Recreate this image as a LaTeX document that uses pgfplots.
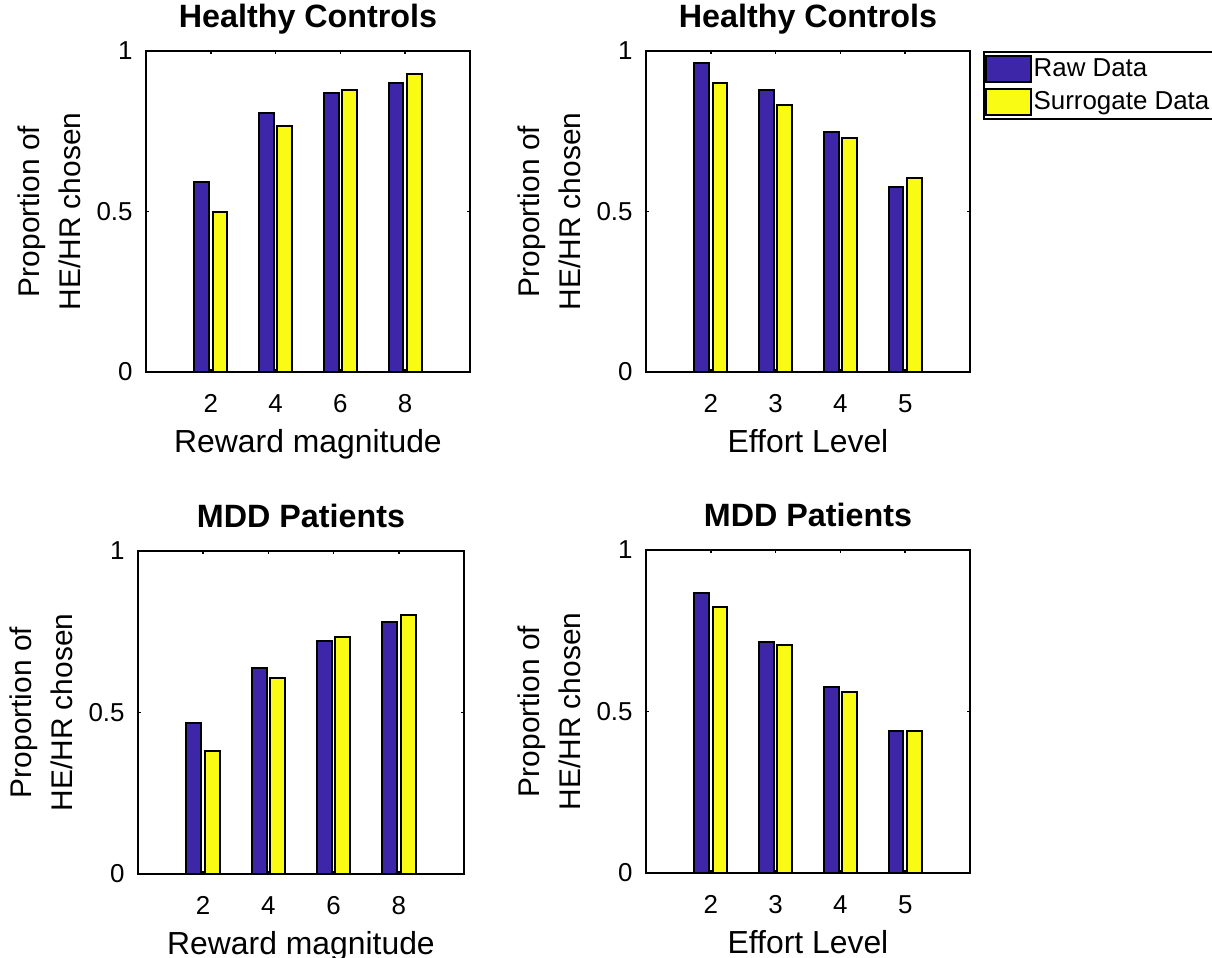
\documentclass[border=0pt]{standalone}
\usepackage{pgfplots}
\pgfplotsset{compat=1.18}
\usepackage{fontspec}
\setmainfont{Liberation Sans}
\definecolor{rawc}{rgb}{0.2422,0.1504,0.6603}
\definecolor{surc}{rgb}{0.9769,0.9839,0.0805}

\pgfplotsset{
  panel/.style={
    scale only axis, width=162bp, height=160.5bp,
    xmin=0, xmax=5, ymin=0, ymax=1,
    xtick={1,2,3,4}, ytick={0,0.5,1}, yticklabels={0,0.5,1},
    tick align=inside, major tick length=1.6bp,
    axis line style={line width=1bp, black},
    every tick/.style={black, line width=0.8bp},
    /pgf/number format/assume math mode=true,
    ticklabel style={font=\fontsize{13}{15}\selectfont},
    xticklabel style={inner sep=0pt, anchor=north, yshift=-11.2bp},
    yticklabel style={inner sep=0pt, anchor=east, xshift=-6.5bp},
    title style={at={(axis description cs:0.5,1)}, anchor=base, yshift=6bp, inner sep=0pt,
      font=\bfseries\fontsize{16.2}{19}\selectfont},
    xlabel style={at={(axis description cs:0.5,0)}, anchor=north, yshift=-28.5bp, inner sep=0pt,
      font=\fontsize{16}{19}\selectfont},
    ylabel style={at={(axis description cs:-0.2,0.5)}, anchor=south, inner sep=0pt,
      align=center, font=\fontsize{15}{20.5}\selectfont},
    ylabel={Proportion of\\HE/HR chosen},
  },
  rawbar/.style={ybar, bar width=0.229, bar shift=-0.143, fill=rawc, draw=black, line width=1bp, forget plot},
  surbar/.style={ybar, bar width=0.229, bar shift=0.143, fill=surc, draw=black, line width=1bp, forget plot},
}

\begin{document}
\begin{tikzpicture}
\useasboundingbox (0,0) rectangle (606bp,479bp);
\clip (0,0) rectangle (606bp,479bp);

% Top left
\begin{axis}[panel, at={(73bp,293bp)}, anchor=south west,
  title={Healthy Controls}, xlabel={Reward magnitude}, xticklabels={2,4,6,8}]
\addplot[rawbar] coordinates {(1,0.592) (2,0.806) (3,0.870) (4,0.899)};
\addplot[surbar] coordinates {(1,0.499) (2,0.767) (3,0.877) (4,0.928)};
\end{axis}

% Top right
\begin{axis}[panel, at={(323bp,293bp)}, anchor=south west,
  title={Healthy Controls}, xlabel={Effort Level}, xticklabels={2,3,4,5},
  legend style={at={(axis description cs:1.040,1)}, anchor=north west, draw=black, line width=1bp,
    font=\fontsize{13}{15.5}\selectfont, inner xsep=0.5bp, inner ysep=1.5bp, row sep=2.5bp,
    nodes={inner sep=0.85bp}, cells={anchor=west}},
  legend cell align=left]
\addplot[rawbar] coordinates {(1,0.962) (2,0.877) (3,0.749) (4,0.576)};
\addplot[surbar] coordinates {(1,0.901) (2,0.833) (3,0.728) (4,0.604)};
\addlegendimage{legend image code/.code={\draw[fill=rawc, draw=black, line width=1bp] (0bp,-6.5bp) rectangle (22.5bp,6.5bp);}}
\addlegendentry{Raw Data}
\addlegendimage{legend image code/.code={\draw[fill=surc, draw=black, line width=1bp] (0bp,-6.5bp) rectangle (22.5bp,6.5bp);}}
\addlegendentry{Surrogate Data\hspace*{4bp}}
\end{axis}

% Bottom left
\begin{axis}[panel, at={(69bp,42bp)}, anchor=south west, width=163bp, height=161.5bp,
  title={MDD Patients}, xlabel={Reward magnitude}, xticklabels={2,4,6,8}]
\addplot[rawbar] coordinates {(1,0.466) (2,0.637) (3,0.721) (4,0.781)};
\addplot[surbar] coordinates {(1,0.381) (2,0.608) (3,0.734) (4,0.802)};
\end{axis}

% Bottom right
\begin{axis}[panel, at={(323bp,42.5bp)}, anchor=south west, height=161.5bp,
  title={MDD Patients}, xlabel={Effort Level}, xticklabels={2,3,4,5}]
\addplot[rawbar] coordinates {(1,0.868) (2,0.715) (3,0.575) (4,0.440)};
\addplot[surbar] coordinates {(1,0.823) (2,0.705) (3,0.561) (4,0.440)};
\end{axis}
\end{tikzpicture}
\end{document}
